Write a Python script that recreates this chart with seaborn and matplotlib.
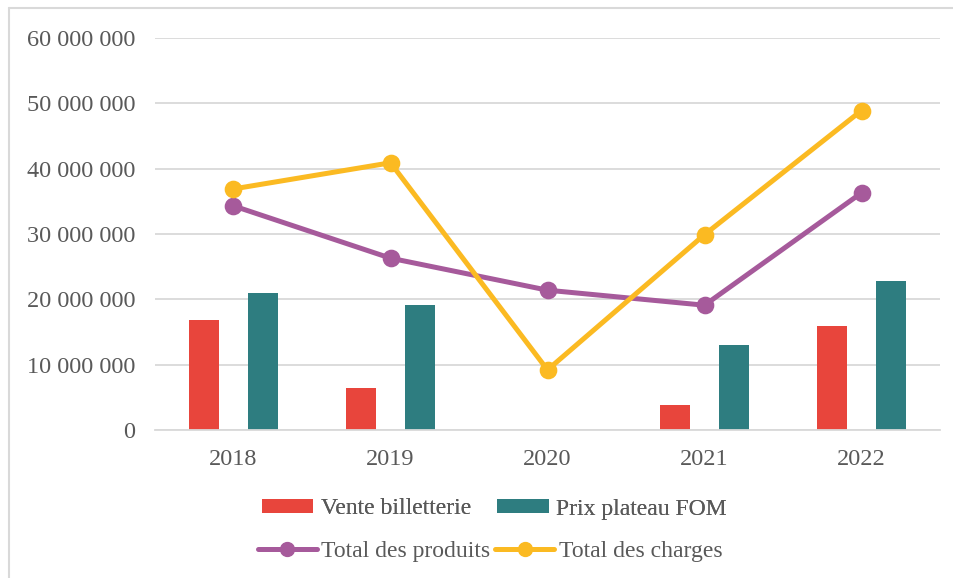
import pandas as pd
import numpy as np
import matplotlib.pyplot as plt
import seaborn as sns
from matplotlib.lines import Line2D
from matplotlib.patches import Patch
from matplotlib.ticker import FuncFormatter

# Data
years = ['2018', '2019', '2020', '2021', '2022']
vente_billetterie = [16800000, 6400000, 0, 3800000, 15900000]
prix_plateau_fom = [21000000, 19100000, 0, 13000000, 22800000]
total_produits = [34300000, 26300000, 21400000, 19100000, 36300000]
total_charges = [36900000, 40900000, 9200000, 29900000, 48900000]

bar_colors = ['#E8453C', '#2E7D80']
line_colors = ['#A65A9B', '#FBBA22']
text_color = '#595959'
grid_color = '#D9D9D9'

bars_df = pd.DataFrame({
    'year': years * 2,
    'value': vente_billetterie + prix_plateau_fom,
    'serie': ['Vente billetterie'] * 5 + ['Prix plateau FOM'] * 5,
})
lines_df = pd.DataFrame({
    'year': years * 2,
    'value': total_produits + total_charges,
    'serie': ['Total des produits'] * 5 + ['Total des charges'] * 5,
})

sns.set_style('white')
plt.rcParams['font.family'] = ['Liberation Serif', 'DejaVu Serif']

fig = plt.figure(figsize=(9.54, 5.78), dpi=100)
ax = fig.add_axes([155 / 954, 1 - 430 / 578, 785 / 954, 392 / 578])

sns.barplot(data=bars_df, x='year', y='value', hue='serie', palette=bar_colors,
            width=0.76, gap=0.5, order=years, ax=ax, legend=False,
            edgecolor='none', saturation=1)
sns.pointplot(data=lines_df, x='year', y='value', hue='serie', palette=line_colors,
              order=years, ax=ax, legend=False, markers='o', dodge=False,
              markersize=10, linewidth=3.6)

ax.set_ylim(0, 60000000)
ax.set_xlim(-0.5, 4.5)
ax.set_yticks(np.arange(0, 60000001, 10000000))
ax.yaxis.set_major_formatter(FuncFormatter(lambda v, p: f'{int(v):,}'.replace(',', ' ')))
ax.grid(axis='y', color=grid_color, linewidth=1.3)
ax.set_axisbelow(True)
for s in ['top', 'right', 'left']:
    ax.spines[s].set_visible(False)
ax.spines['bottom'].set_color(grid_color)
ax.spines['bottom'].set_linewidth(1.3)
ax.tick_params(axis='y', length=0, pad=14, labelsize=17.5, labelcolor=text_color)
ax.tick_params(axis='x', length=0, pad=14, labelsize=17.5, labelcolor=text_color)
ax.set_xlabel('')
ax.set_ylabel('')

# Legends: bars on the first row, lines on the second
bar_handles = [Patch(facecolor=c, edgecolor='none') for c in bar_colors]
leg1 = fig.legend(bar_handles, ['Vente billetterie', 'Prix plateau FOM'], ncol=2,
                  loc='center', bbox_to_anchor=(494 / 954, 1 - 509 / 578), frameon=False,
                  fontsize=17, labelcolor=text_color, handlelength=2.2, handleheight=0.55,
                  handletextpad=0.3, columnspacing=1.1)
line_handles = [Line2D([], [], color=c, lw=3.6, marker='o', markersize=10) for c in line_colors]
leg2 = fig.legend(line_handles, ['Total des produits', 'Total des charges'], ncol=2,
                  loc='center', bbox_to_anchor=(490 / 954, 1 - 551 / 578), frameon=False,
                  fontsize=17, labelcolor=text_color, handlelength=2.5,
                  handletextpad=0.2, columnspacing=0.2)
fig.add_artist(leg1)

# Chart frame (left and top edges visible)
fig.add_artist(Line2D([9 / 954, 9 / 954], [0, 1 - 8 / 578], color='#D9D9D9', lw=1.5))
fig.add_artist(Line2D([9 / 954, 1], [1 - 8 / 578, 1 - 8 / 578], color='#D9D9D9', lw=1.5))

fig.savefig('out.png', dpi=100)
